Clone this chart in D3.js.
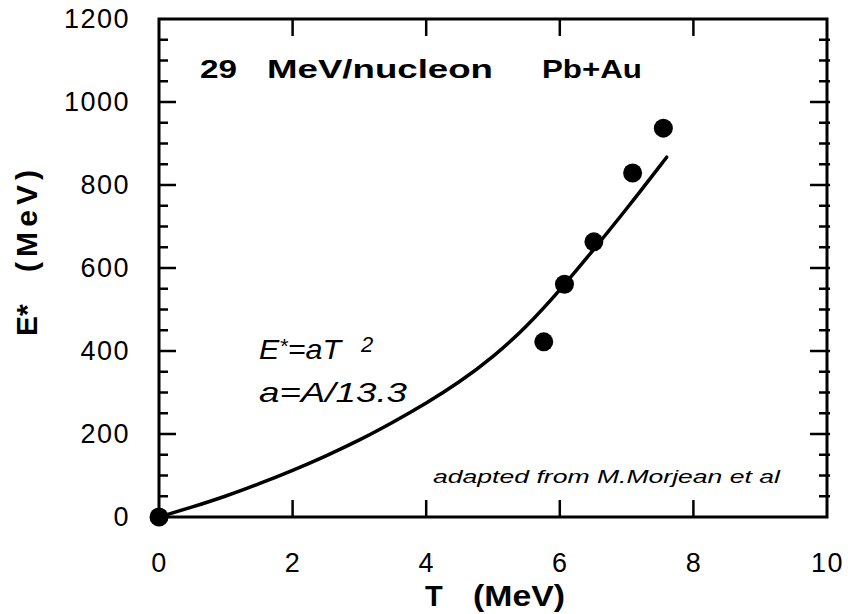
<!DOCTYPE html>
<html>
<head>
<meta charset="utf-8">
<script src="https://cdn.jsdelivr.net/npm/d3@7"></script>
<style>
  body { margin: 0; background: #fff; }
  text { font-family: "Liberation Sans", Arial, Helvetica, sans-serif; fill: #000; }
</style>
</head>
<body>
<svg width="848" height="614"></svg>
<script>
// measured points (T in MeV, E* in MeV)
const tempData = [0, 5.76, 6.07, 6.51, 7.09, 7.55];
const excData = [0, 422, 561, 663, 829, 937];

// fitted curve E* = aT^2
const fitT = [0, 0.5, 1, 1.5, 2, 2.5, 3, 3.5, 4, 4.5, 5, 5.5, 6, 6.5, 7, 7.6];
const fitE = [0, 24, 50, 80, 112, 147, 185, 228, 274, 325, 385, 458, 546, 643, 742, 867];

const xTickVals = [0, 2, 4, 6, 8, 10];
const yTickVals = [0, 200, 400, 600, 800, 1000, 1200];

let svg = d3.select("svg");

let x = d3.scaleLinear().domain([0, 10]).range([159, 827]);
let y = d3.scaleLinear().domain([0, 1200]).range([517, 19]);

let yMinor = d3.range(0, 1201, 50).filter(v => v % 200 != 0);
let xInner = xTickVals.filter(v => v > 0 && v < 10);

// frame
svg.append("rect")
  .attr("x", x(0)).attr("y", y(1200))
  .attr("width", x(10) - x(0)).attr("height", y(0) - y(1200))
  .attr("fill", "none").attr("stroke", "#000").attr("stroke-width", 3);

// inward ticks, bottom + top
let tickG = svg.append("g").attr("stroke", "#000").attr("stroke-width", 2.5);
xInner.forEach(v => {
  tickG.append("line").attr("x1", x(v)).attr("x2", x(v)).attr("y1", y(0)).attr("y2", y(0) - 17);
  tickG.append("line").attr("x1", x(v)).attr("x2", x(v)).attr("y1", y(1200)).attr("y2", y(1200) + 17);
});

// left + right ticks
yTickVals.concat(yMinor).forEach(v => {
  let major = v % 200 == 0;
  if (v == 0 || v == 1200) return;
  tickG.append("line").attr("x1", x(0)).attr("x2", x(0) + (major ? 17 : 9)).attr("y1", y(v)).attr("y2", y(v));
  tickG.append("line").attr("x1", x(10) + 3).attr("x2", x(10) - (major ? 17 : 8)).attr("y1", y(v)).attr("y2", y(v));
});

// tick labels
svg.append("g")
  .attr("transform", "translate(0," + y(0) + ")")
  .call(d3.axisBottom(x).tickValues(xTickVals).tickSize(0).tickPadding(36))
  .call(g => g.select(".domain").remove())
  .selectAll("text")
  .attr("font-size", 27)
  .style("font-family", "'Liberation Sans', Arial, sans-serif")
  .attr("letter-spacing", 1.5);

svg.append("g")
  .attr("transform", "translate(" + x(0) + ",0)")
  .call(d3.axisLeft(y).tickValues(yTickVals).tickSize(0).tickPadding(29).tickFormat(d3.format("d")))
  .call(g => g.select(".domain").remove())
  .selectAll("text")
  .attr("font-size", 27)
  .style("font-family", "'Liberation Sans', Arial, sans-serif")
  .attr("letter-spacing", 1.5);

// fit curve
let line = d3.line()
  .x(d => x(d[0]))
  .y(d => y(d[1]))
  .curve(d3.curveBasis);

svg.append("path")
  .datum(d3.zip(fitT, fitE))
  .attr("d", line)
  .attr("fill", "none")
  .attr("stroke", "#000")
  .attr("stroke-width", 3.5)
  .attr("stroke-linecap", "round");

// data points
svg.append("g")
  .selectAll("circle")
  .data(d3.zip(tempData, excData))
  .enter()
  .append("circle")
  .attr("cx", d => x(d[0]))
  .attr("cy", d => y(d[1]))
  .attr("r", 9.5)
  .attr("fill", "#000");

// title
let title = svg.append("text").attr("y", 78).attr("font-size", 26).attr("font-weight", "bold");
title.append("tspan").attr("x", 200).attr("textLength", 37).attr("lengthAdjust", "spacingAndGlyphs").text("29");
title.append("tspan").attr("x", 267).attr("textLength", 226).attr("lengthAdjust", "spacingAndGlyphs").text("MeV/nucleon");
title.append("tspan").attr("x", 542).attr("textLength", 100).attr("lengthAdjust", "spacingAndGlyphs").text("Pb+Au");

// formula
let f1 = svg.append("text").attr("x", 259).attr("y", 359).attr("font-size", 28).attr("font-style", "italic")
  .attr("textLength", 82).attr("lengthAdjust", "spacingAndGlyphs");
f1.append("tspan").text("E");
f1.append("tspan").attr("font-size", 20).attr("dy", -6).text("*");
f1.append("tspan").attr("dy", 6).text("=aT");
svg.append("text").attr("x", 361).attr("y", 352).attr("font-size", 22).attr("font-style", "italic").text("2");
svg.append("text").attr("x", 259).attr("y", 402).attr("font-size", 28).attr("font-style", "italic")
  .attr("textLength", 148).attr("lengthAdjust", "spacingAndGlyphs").text("a=A/13.3");

// credit
svg.append("text").attr("x", 433).attr("y", 483).attr("font-size", 19).attr("font-style", "italic")
  .attr("textLength", 347).attr("lengthAdjust", "spacingAndGlyphs").text("adapted from M.Morjean et al");

// axis titles
svg.append("text").attr("x", 425).attr("y", 606).attr("font-size", 29).attr("font-weight", "bold").text("T");
svg.append("text").attr("x", 473).attr("y", 606).attr("font-size", 29).attr("font-weight", "bold")
  .attr("textLength", 92).attr("lengthAdjust", "spacingAndGlyphs").text("(MeV)");

svg.append("text").attr("transform", "translate(37,336) rotate(-90)")
  .attr("font-size", 30).attr("font-weight", "bold").text("E*");
svg.append("text").attr("transform", "translate(37,272) rotate(-90)")
  .attr("font-size", 30).attr("font-weight", "bold").attr("textLength", 102).text("(MeV)");
</script>
</body>
</html>
